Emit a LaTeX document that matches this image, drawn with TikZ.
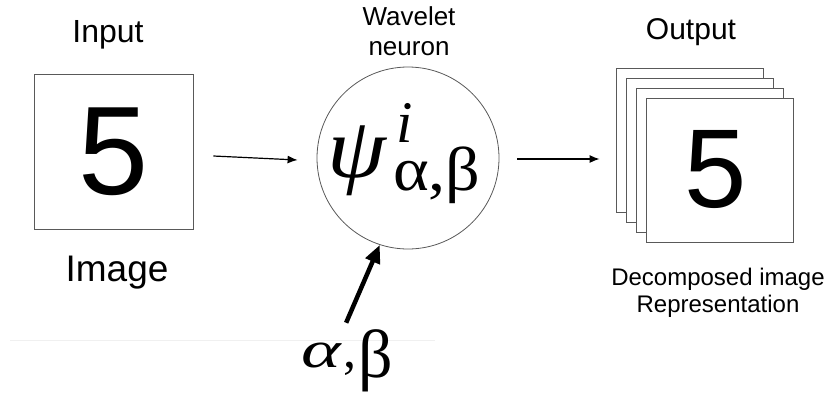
\documentclass[tikz,border=0pt]{standalone}
\usepackage{fontspec}
\setmainfont{Liberation Sans}
\newfontfamily\grk{Liberation Serif}
\usetikzlibrary{arrows.meta}
\tikzset{
  frame/.style={draw=black!65, line width=0.8pt, fill=white, inner sep=0pt},
  lbl/.style={inner sep=0pt, anchor=base},
  greek/.style={inner sep=0pt, anchor=base west},
  thinarrow/.style={line width=1.2pt, -{Latex[length=10pt,width=8pt]}},
  thickarrow/.style={line width=4.5pt, -{Triangle[length=18pt,width=15pt]}},
}
\begin{document}
\begin{tikzpicture}[x=1pt,y=-1pt]
\useasboundingbox (0,0) rectangle (831,394);
% faint rule
\draw[gray!12, line width=1pt] (10,340) -- (435,340);
% input
\node[frame, minimum width=159, minimum height=155, font=\fontsize{126}{130}\selectfont] (in) at (113.5,151.5) {5};
\node[lbl, font=\fontsize{32}{36}\selectfont] (tin) at (108,42) {Input};
\node[lbl, font=\fontsize{37}{40}\selectfont] (timg) at (117,281) {Image};
% wavelet neuron
\node[frame, circle, minimum size=182] (wn) at (408,158) {};
\node[lbl, font=\fontsize{26}{30}\selectfont] (tw1) at (409,25) {Wavelet};
\node[lbl, font=\fontsize{26}{30}\selectfont] (tw2) at (409,55) {neuron};
\node[greek, font=\grk\itshape\fontsize{86}{90}\selectfont] (psi) at (327,177) {\scalebox{1.1}[1]{ψ}};
\node[greek, font=\grk\itshape\fontsize{59}{64}\selectfont] (sup) at (396,142) {i};
\node[greek, font=\grk\fontsize{62}{66}\selectfont] (sub) at (393,190) {\scalebox{1.1}[1]{α,β}};
% parameters
\node[greek] (ab) at (301,367) {\grk\fontsize{52}{60}\selectfont\scalebox{1.45}[1]{\textit{α}}\hspace{1pt},\hspace{2pt}\raisebox{-10pt}{\fontsize{68}{70}\selectfont β}};
% output stack
\node[frame, minimum width=147, minimum height=144] (o1) at (689.5,140) {};
\node[frame, minimum width=147, minimum height=144] (o2) at (699.5,150) {};
\node[frame, minimum width=147, minimum height=144] (o3) at (709.5,160) {};
\node[frame, minimum width=147, minimum height=144, font=\fontsize{112}{116}\selectfont] (o4) at (719.5,170) {\hspace*{-7pt}5};
\node[lbl, font=\fontsize{30}{34}\selectfont] (tout) at (691,39) {Output};
\node[lbl, font=\fontsize{24}{27}\selectfont] (td1) at (718,285) {Decomposed image};
\node[lbl, font=\fontsize{24}{27}\selectfont] (td2) at (718,312) {Representation};
% connectors
\draw[thinarrow] ([xshift=20pt,yshift=-4.5pt]in.east) -- ([xshift=-19pt,yshift=-2pt]wn.west);
\draw[thinarrow] ([xshift=18pt,yshift=-1pt]wn.east) -- ([xshift=-16pt,yshift=-19pt]o1.west);
\draw[thickarrow, shorten <=-2pt] ([yshift=8pt]ab.north) -- (wn.252);
\end{tikzpicture}
\end{document}
